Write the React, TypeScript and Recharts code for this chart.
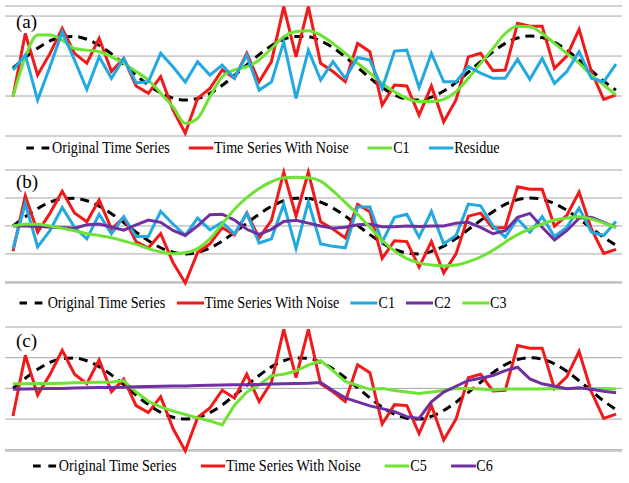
import React from 'react';
import { LineChart, Line, XAxis, YAxis, CartesianGrid, Legend } from 'recharts';

// Sample index (categories)
const STEPS = [
  1, 2, 3, 4, 5, 6, 7, 8, 9, 10, 11, 12, 13, 14, 15, 16, 17, 18, 19, 20, 21, 22, 23, 24, 25,
  26, 27, 28, 29, 30, 31, 32, 33, 34, 35, 36, 37, 38, 39, 40, 41, 42, 43, 44, 45, 46, 47, 48, 49, 50,
];

const ORIGINAL = [
  0, 0.33, 0.62, 0.85, 0.97, 0.99, 0.9, 0.71, 0.44, 0.12, -0.22, -0.53, -0.78, -0.94, -1.0, -0.95, -0.79,
  -0.54, -0.23, 0.1, 0.42, 0.7, 0.9, 0.99, 0.98, 0.85, 0.64, 0.35, 0.02, -0.31, -0.61, -0.84, -0.97, -1.0,
  -0.91, -0.72, -0.45, -0.13, 0.2, 0.51, 0.77, 0.94, 1.0, 0.95, 0.8, 0.56, 0.25, -0.08, -0.41, -0.69,
];

const NOISY = [
  -0.9, 1.08, -0.22, 0.45, 1.24, 0.46, 0.15, 0.93, -0.11, 0.3, -0.56, -0.79, -0.27, -1.31, -2.04, -0.95,
  -0.64, -0.06, -0.32, 0.46, -0.43, 0.2, 1.92, 0.35, 1.92, 0.15, -0.11, -0.43, 0.77, 0.51, -1.16, -0.53,
  -0.56, -1.47, -0.56, -1.68, -1.0, 0.35, 0.46, -0.08, -0.06, 1.4, 1.31, 1.31, -0.01, 0.375, 1.21, -0.11,
  -0.98, -0.84,
];

// Panel (a)
const A_C1 = [
  -0.9, 0.35, 1.03, 1.03, 0.875, 0.61, 0.56, 0.51, 0.35, 0.15, -0.11, -0.375, -0.79, -1.21, -1.73, -1.57,
  -0.9, -0.27, -0.06, 0.04, 0.25, 0.61, 0.98, 1.14, 1.17, 1.03, 0.77, 0.46, 0.15, -0.16, -0.48, -0.74,
  -0.95, -1.05, -1.05, -0.98, -0.74, -0.32, 0.15, 0.61, 1.08, 1.31, 1.29, 1.08, 0.77, 0.46, 0.15, -0.22,
  -0.53, -0.84,
];
const A_RESIDUE = [
  -0.06, 0.41, -1.0, 0.04, 1.13, 0.25, -0.67, 0.35, -0.32, 0.3, -0.46, -0.43, 0.46, 0.04, -0.44, 0.2,
  -0.22, 0.09, -0.32, 0.41, -0.69, -0.44, 0.82, -0.95, 0.56, -0.375, 0.2, -0.32, 0.33, 0.25, -0.64, 0.53,
  0.56, -0.61, 0.46, -0.43, -0.43, 0.04, -0.16, -0.32, -0.32, 0.27, -0.35, 0.3, -0.48, -0.11, 0.51, -0.32,
  -0.43, 0.125,
];

// Panel (b)
const B_C1 = [
  -0.81, 0.8, -0.75, -0.17, 0.66, -0.05, -0.46, 0.42, -0.28, 0.33, -0.38, -0.38, 0.52, 0.07, -0.34, 0.28,
  -0.14, 0.13, -0.28, 0.45, -0.61, -0.46, 0.78, -0.81, 0.87, -0.64, -0.73, -0.78, 0.68, 0.68, -0.58, 0.31,
  0.42, -0.4, 0.52, -0.64, -0.34, 0.78, 0.72, 0.0, -0.4, 0.25, -0.22, 0.33, -0.38, -0.05, 0.64, -0.22,
  -0.34, 0.16,
];
const B_C2 = [
  0.0, 0.0, -0.02, -0.04, -0.06, -0.08, 0.04, 0.07, -0.04, -0.15, 0.04, 0.21, 0.13, -0.16, -0.34, 0.0, 0.4,
  0.42, 0.21, -0.12, -0.3, -0.12, 0.16, 0.2, 0.1, 0.0, -0.08, -0.05, 0.04, 0.06, -0.03, -0.03, 0.0, -0.02,
  0.0, 0.0, 0.1, 0.13, -0.05, -0.28, -0.17, 0.31, 0.45, -0.05, -0.5, -0.17, 0.28, 0.31, 0.13, -0.05,
];
const B_C3 = [
  0.0, 0.06, 0.06, 0.0, -0.08, -0.17, -0.28, -0.34, -0.42, -0.54, -0.66, -0.81, -0.93, -0.99, -0.96, -0.81,
  -0.46, 0.07, 0.6, 1.01, 1.34, 1.58, 1.72, 1.74, 1.72, 1.6, 1.25, 0.84, 0.42, -0.05, -0.52, -0.89, -1.17,
  -1.32, -1.4, -1.43, -1.4, -1.28, -1.11, -0.87, -0.58, -0.31, -0.11, 0.07, 0.21, 0.28, 0.33, 0.25, 0.1,
  -0.05,
];

// Panel (c)
const C_C5 = [
  0.15, 0.15, 0.16, 0.16, 0.17, 0.18, 0.19, 0.2, 0.21, 0.25, -0.12, -0.42, -0.6, -0.74, -0.85, -0.96, -1.06,
  -1.19, -0.55, -0.12, 0.11, 0.41, 0.46, 0.57, 0.76, 0.9, 0.58, 0.23, 0.1, -0.03, 0.0, -0.07, -0.12, -0.17,
  -0.12, -0.07, 0.0, 0.0, -0.02, -0.05, -0.02, -0.02, -0.02, -0.02, 0.0, 0.0, 0.0, 0.0, 0.0, -0.02,
];
const C_C6 = [
  -0.03, -0.02, -0.01, 0.0, 0.0, 0.01, 0.02, 0.03, 0.03, 0.04, 0.05, 0.06, 0.07, 0.08, 0.08, 0.09, 0.1,
  0.11, 0.12, 0.12, 0.13, 0.14, 0.15, 0.16, 0.17, 0.19, -0.07, -0.31, -0.44, -0.57, -0.66, -0.76, -0.92,
  -0.98, -0.44, -0.12, 0.07, 0.26, 0.33, 0.42, 0.58, 0.69, 0.31, 0.15, 0.07, -0.01, 0.02, -0.03, -0.09,
  -0.14,
];

const PANEL_LABELS = ['(a)', '(b)', '(c)'];
const LEGEND_A = ['Original Time Series', 'Time Series With Noise', 'C1', 'Residue'];
const LEGEND_B = ['Original Time Series', 'Time Series With Noise', 'C1', 'C2', 'C3'];
const LEGEND_C = ['Original Time Series', 'Time Series With Noise', 'C5', 'C6'];
const TICKS_A = [-2.125, -1.5, -0.875, -0.25, 0.375, 1.0, 1.625];
const TICKS_BC = [-2, -1, 0, 1, 2];

const RED = '#f01a1a';
const GREEN = '#6fe333';
const BLUE = '#23a9e1';
const PURPLE = '#7030a0';
const GRID = '#a6a6a6';
const FONT = "'Liberation Serif', 'DejaVu Serif', 'Times New Roman', Times, serif";
const SQUEEZE = 0.855;

const dataA = STEPS.map((s, i) => ({ s, orig: ORIGINAL[i], noisy: NOISY[i], c1: A_C1[i], res: A_RESIDUE[i] }));
const dataB = STEPS.map((s, i) => ({ s, orig: ORIGINAL[i], noisy: NOISY[i], c1: B_C1[i], c2: B_C2[i], c3: B_C3[i] }));
const dataC = STEPS.map((s, i) => ({ s, orig: ORIGINAL[i], noisy: NOISY[i], c5: C_C5[i], c6: C_C6[i] }));

const makeLegend = (order: string[], gap: number, iconW: number) => (props: any) => {
  const payload = [...(props.payload || [])].sort(
    (a: any, b: any) => order.indexOf(a.value) - order.indexOf(b.value)
  );
  return (
    <div
      style={{
        display: 'flex',
        justifyContent: 'center',
        alignItems: 'center',
        fontFamily: FONT,
        fontSize: 16.5,
        color: '#000',
        whiteSpace: 'nowrap',
        lineHeight: '18px',
        transform: `scaleX(${SQUEEZE})`,
        transformOrigin: 'center',
      }}
    >
      {payload.map((it: any, idx: number) => (
        <div key={idx} style={{ display: 'flex', alignItems: 'center', marginLeft: idx ? gap : 0 }}>
          <svg width={iconW} height={10} style={{ display: 'block' }}>
            <line
              x1={0}
              y1={5}
              x2={iconW}
              y2={5}
              stroke={it.color}
              strokeWidth={3}
              strokeDasharray={it.payload && it.payload.strokeDasharray ? '9 9' : undefined}
            />
          </svg>
          <span style={{ marginLeft: 1 }}>{it.value}</span>
        </div>
      ))}
    </div>
  );
};

const W = 629;
const MARGIN_X = { left: 5, right: 7 };
const PAD = { left: 8, right: 6 };
const LW = 3;

const labelStyle = (top: number): React.CSSProperties => ({
  position: 'absolute',
  left: 16,
  top,
  fontFamily: FONT,
  fontSize: 19,
  color: '#000',
  lineHeight: '20px',
});

export default function App() {
  return (
    <div style={{ position: 'absolute', left: 0, top: 0, width: W, height: 483, background: '#fff', overflow: 'hidden' }}>
      {/* Panel (a) */}
      <div style={{ position: 'absolute', left: 0, top: 0 }}>
        <LineChart width={W} height={160} data={dataA} margin={{ top: 6, bottom: 24, ...MARGIN_X }}>
          <CartesianGrid vertical={false} stroke={GRID} strokeWidth={1} />
          <XAxis dataKey="s" hide padding={PAD} />
          <YAxis hide type="number" domain={[-2.125, 1.94]} ticks={TICKS_A} />
          <Line dataKey="orig" name="Original Time Series" stroke="#000" strokeWidth={LW} strokeDasharray="9 6" dot={false} type="monotone" isAnimationActive={false} />
          <Line dataKey="noisy" name="Time Series With Noise" stroke={RED} strokeWidth={LW} dot={false} type="linear" isAnimationActive={false} />
          <Line dataKey="c1" name="C1" stroke={GREEN} strokeWidth={LW} dot={false} type="monotone" isAnimationActive={false} />
          <Line dataKey="res" name="Residue" stroke={BLUE} strokeWidth={LW} dot={false} type="linear" isAnimationActive={false} />
          <Legend
            layout="horizontal"
            verticalAlign="middle"
            align="center"
            wrapperStyle={{ top: 139, left: 0, width: 526, height: 18 }}
            content={makeLegend(LEGEND_A, 22, 29)}
          />
        </LineChart>
      </div>
      <div style={labelStyle(12)}>{PANEL_LABELS[0]}</div>

      {/* Panel (b) */}
      <div style={{ position: 'absolute', left: 0, top: 165 }}>
        <LineChart width={W} height={150} data={dataB} margin={{ top: 5, bottom: 32, ...MARGIN_X }}>
          <CartesianGrid vertical={false} stroke={GRID} strokeWidth={1} />
          <XAxis dataKey="s" hide padding={PAD} />
          <YAxis hide type="number" domain={[-2, 2]} ticks={TICKS_BC} />
          <Line dataKey="orig" name="Original Time Series" stroke="#000" strokeWidth={LW} strokeDasharray="9 6" dot={false} type="monotone" isAnimationActive={false} />
          <Line dataKey="noisy" name="Time Series With Noise" stroke={RED} strokeWidth={LW} dot={false} type="linear" isAnimationActive={false} />
          <Line dataKey="c1" name="C1" stroke={BLUE} strokeWidth={LW} dot={false} type="linear" isAnimationActive={false} />
          <Line dataKey="c2" name="C2" stroke={PURPLE} strokeWidth={LW} dot={false} type="linear" isAnimationActive={false} />
          <Line dataKey="c3" name="C3" stroke={GREEN} strokeWidth={LW} dot={false} type="monotone" isAnimationActive={false} />
          <Legend
            layout="horizontal"
            verticalAlign="middle"
            align="center"
            wrapperStyle={{ top: 129, left: 0, width: 526, height: 18 }}
            content={makeLegend(LEGEND_B, 13, 32)}
          />
        </LineChart>
      </div>
      <div style={labelStyle(172)}>{PANEL_LABELS[1]}</div>

      {/* Panel (c) */}
      <div style={{ position: 'absolute', left: 0, top: 320 }}>
        <LineChart width={W} height={163} data={dataC} margin={{ top: 7, bottom: 32, ...MARGIN_X }}>
          <CartesianGrid vertical={false} stroke={GRID} strokeWidth={1} />
          <XAxis dataKey="s" hide padding={PAD} />
          <YAxis hide type="number" domain={[-2, 2]} ticks={TICKS_BC} />
          <Line dataKey="orig" name="Original Time Series" stroke="#000" strokeWidth={LW} strokeDasharray="9 6" dot={false} type="monotone" isAnimationActive={false} />
          <Line dataKey="noisy" name="Time Series With Noise" stroke={RED} strokeWidth={LW} dot={false} type="linear" isAnimationActive={false} />
          <Line dataKey="c5" name="C5" stroke={GREEN} strokeWidth={LW} dot={false} type="linear" isAnimationActive={false} />
          <Line dataKey="c6" name="C6" stroke={PURPLE} strokeWidth={LW} dot={false} type="linear" isAnimationActive={false} />
          <Legend
            layout="horizontal"
            verticalAlign="middle"
            align="center"
            wrapperStyle={{ top: 137, left: 0, width: 526, height: 18 }}
            content={makeLegend(LEGEND_C, 28, 29)}
          />
        </LineChart>
      </div>
      <div style={labelStyle(331)}>{PANEL_LABELS[2]}</div>
    </div>
  );
}
